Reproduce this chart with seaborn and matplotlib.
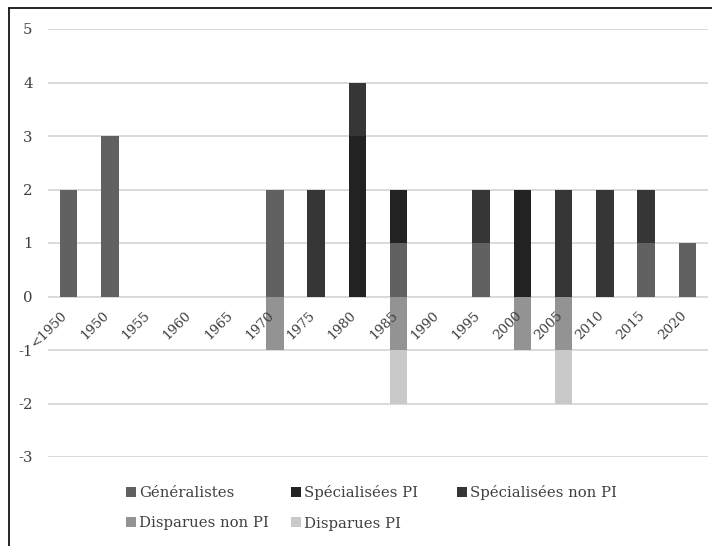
import numpy as np
import pandas as pd
import seaborn as sns
import matplotlib
matplotlib.use("Agg")
import matplotlib.pyplot as plt
import matplotlib.transforms as mtransforms
from matplotlib.lines import Line2D

# Period categories (x axis)
periods = ["<1950", "1950", "1955", "1960", "1965", "1970", "1975", "1980",
           "1985", "1990", "1995", "2000", "2005", "2010", "2015", "2020"]

# Counts per period for each series (negative = disappeared)
generalistes        = [2, 3, 0, 0, 0, 2, 0, 0, 1, 0, 1, 0, 0, 0, 1, 1]
specialisees_pi     = [0, 0, 0, 0, 0, 0, 0, 3, 1, 0, 0, 2, 0, 0, 0, 0]
specialisees_non_pi = [0, 0, 0, 0, 0, 0, 2, 1, 0, 0, 1, 0, 2, 2, 1, 0]
disparues_non_pi    = [0, 0, 0, 0, 0, -1, 0, 0, -1, 0, 0, -1, -1, 0, 0, 0]
disparues_pi        = [0, 0, 0, 0, 0, 0, 0, 0, -1, 0, 0, 0, -1, 0, 0, 0]

series_names = ["Généralistes", "Spécialisées PI", "Spécialisées non PI",
                "Disparues non PI", "Disparues PI"]
colors = {
    "Généralistes": "#616161",
    "Spécialisées PI": "#222222",
    "Spécialisées non PI": "#363636",
    "Disparues non PI": "#939393",
    "Disparues PI": "#c9c9c9",
}

sns.set_theme(style="white")
plt.rcParams["font.family"] = ["DejaVu Serif"]
plt.rcParams["axes.unicode_minus"] = False

fig = plt.figure(figsize=(7.12, 5.46), dpi=100)
ax = fig.add_axes([48 / 712, 1 - 457 / 546, 660 / 712, 428 / 546])

g = np.array(generalistes)
spi = np.array(specialisees_pi)
snpi = np.array(specialisees_non_pi)
dnpi = np.array(disparues_non_pi)
dpi_ = np.array(disparues_pi)

stack = [
    ("Généralistes", g, np.zeros_like(g)),
    ("Spécialisées PI", spi, g),
    ("Spécialisées non PI", snpi, g + spi),
    ("Disparues non PI", dnpi, np.zeros_like(dnpi)),
    ("Disparues PI", dpi_, dnpi),
]
for name, vals, base in stack:
    sns.barplot(x=periods, y=vals, order=periods, bottom=base,
                color=colors[name], saturation=1, width=0.42,
                linewidth=0, errorbar=None, ax=ax, zorder=3)

ax.set_ylim(-3, 5)
ax.set_yticks(range(-3, 6))
ax.set_axisbelow(True)
ax.yaxis.grid(True, color="#d9d9d9", linewidth=1.4)
ax.xaxis.grid(False)
# category labels sit on top of the bars, gridlines stay behind
ax.xaxis.set_zorder(5)
for side in ["top", "right", "left"]:
    ax.spines[side].set_visible(False)
ax.spines["bottom"].set_position(("data", 0))
ax.spines["bottom"].set_visible(False)
ax.set_xlabel("")
ax.set_ylabel("")

ax.tick_params(axis="y", length=0, pad=11, labelsize=10.7, labelcolor="#404040")
ax.tick_params(axis="x", length=0, pad=12, labelsize=9.6, labelcolor="#404040")
shift = mtransforms.ScaledTranslation(-3 / 100, 0, fig.dpi_scale_trans)
for lbl in ax.get_xticklabels():
    lbl.set_rotation(45)
    lbl.set_rotation_mode("anchor")
    lbl.set_ha("right")
    lbl.set_va("center")
    lbl.set_transform(lbl.get_transform() + shift)

# Legend: three equally spaced columns, two rows
handles = {n: Line2D([], [], marker="s", linestyle="none", markersize=7,
                     markerfacecolor=colors[n], markeredgewidth=0)
           for n in series_names}
legend_cols = [
    (["Généralistes", "Disparues non PI"], 126, 508),
    (["Spécialisées PI", "Disparues PI"], 291, 508),
    (["Spécialisées non PI"], 457, 493),
]
for names, x_px, y_px in legend_cols:
    fig.legend([handles[n] for n in names], names, loc="center left",
               bbox_to_anchor=(x_px / 712, 1 - y_px / 546), frameon=False,
               fontsize=10.7, handlelength=0.7, handletextpad=0.15,
               labelspacing=1.1, borderpad=0, borderaxespad=0,
               labelcolor="#404040")

# Chart area border (top and left edges)
fig.add_artist(Line2D([9 / 712, 1], [1 - 8 / 546, 1 - 8 / 546],
                      transform=fig.transFigure, color="black", linewidth=1.2))
fig.add_artist(Line2D([9 / 712, 9 / 712], [0, 1 - 8 / 546],
                      transform=fig.transFigure, color="black", linewidth=1.2))

fig.savefig("out.png", dpi=100)
